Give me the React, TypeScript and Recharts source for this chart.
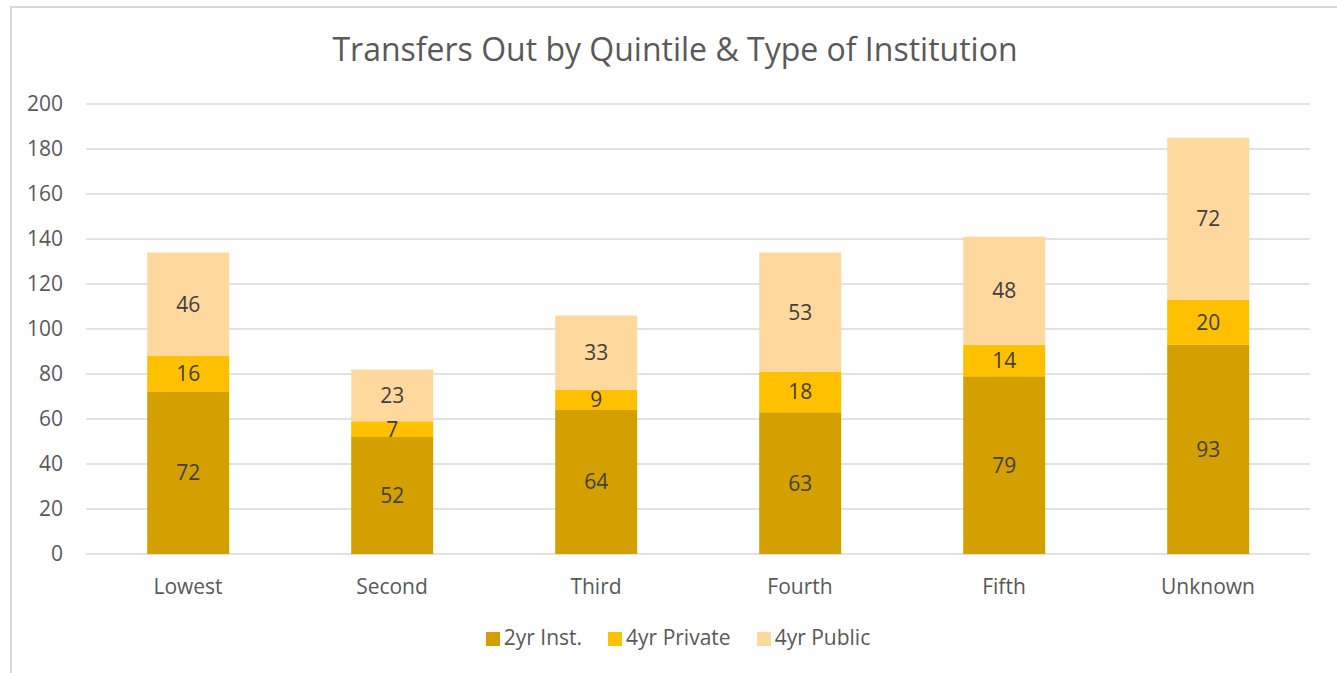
import { Bar, BarChart, CartesianGrid, LabelList, Legend, XAxis, YAxis } from "recharts";

// Values
const quintiles = ["Lowest", "Second", "Third", "Fourth", "Fifth", "Unknown"];
const twoYearInst = [72, 52, 64, 63, 79, 93];
const fourYearPrivate = [16, 7, 9, 18, 14, 20];
const fourYearPublic = [46, 23, 33, 53, 48, 72];
const yTicks = [0, 20, 40, 60, 80, 100, 120, 140, 160, 180, 200];

const series = [
	{ key: "twoYear", name: "2yr Inst.", color: "#D4A000" },
	{ key: "fourPrivate", name: "4yr Private", color: "#FFC000" },
	{ key: "fourPublic", name: "4yr Public", color: "#FFD89E" },
];

const chartData = quintiles.map((q, i) => ({
	quintile: q,
	twoYear: twoYearInst[i],
	fourPrivate: fourYearPrivate[i],
	fourPublic: fourYearPublic[i],
}));

const FONT = "'Open Sans', sans-serif";
const TEXT = "#595959";

export default function App() {
	return (
		<div
			style={{
				position: "fixed",
				left: 0,
				top: 0,
				width: 1337,
				height: 673,
				overflow: "hidden",
				background: "#fff",
				fontFamily: FONT,
			}}
		>
			<div
				style={{
					position: "absolute",
					left: 10,
					top: 6,
					width: 1340,
					height: 680,
					border: "2px solid #d9d9d9",
					boxSizing: "border-box",
				}}
			/>
			<div
				style={{
					position: "absolute",
					left: 0,
					top: 27,
					width: 1350,
					textAlign: "center",
					fontSize: 32,
					color: TEXT,
				}}
			>
				Transfers Out by Quintile &amp; Type of Institution
			</div>
			<div style={{ position: "absolute", left: 0, top: 0 }}>
				<BarChart
					width={1337}
					height={673}
					data={chartData}
					margin={{ top: 104, right: 27, bottom: 29, left: 0 }}
					barCategoryGap="30%"
				>
					<CartesianGrid vertical={false} stroke="#d9d9d9" strokeWidth={1.5} />
					<XAxis
						dataKey="quintile"
						axisLine={false}
						tickLine={false}
						height={40}
						tickMargin={19}
						tick={{ fill: TEXT, fontSize: 21, fontFamily: FONT }}
					/>
					<YAxis
						width={86}
						domain={[0, 200]}
						ticks={yTicks}
						axisLine={false}
						tickLine={false}
						tickSize={0}
						tickMargin={23}
						tick={{ fill: TEXT, fontSize: 21, fontFamily: FONT }}
					/>
					<Legend
						height={50}
						iconType="square"
						iconSize={14}
						wrapperStyle={{ top: 623, left: 36, fontFamily: FONT, fontSize: 21 }}
						formatter={(value) => (
							<span style={{ color: TEXT, marginRight: 16 }}>{value}</span>
						)}
					/>
					{series.map(({ key, name, color }) => (
						<Bar
							key={key}
							dataKey={key}
							name={name}
							stackId="a"
							fill={color}
							isAnimationActive={false}
						>
							<LabelList
								dataKey={key}
								position="center"
								fill="#404040"
								fontSize={21}
								fontFamily={FONT}
							/>
						</Bar>
					))}
				</BarChart>
			</div>
		</div>
	);
}
